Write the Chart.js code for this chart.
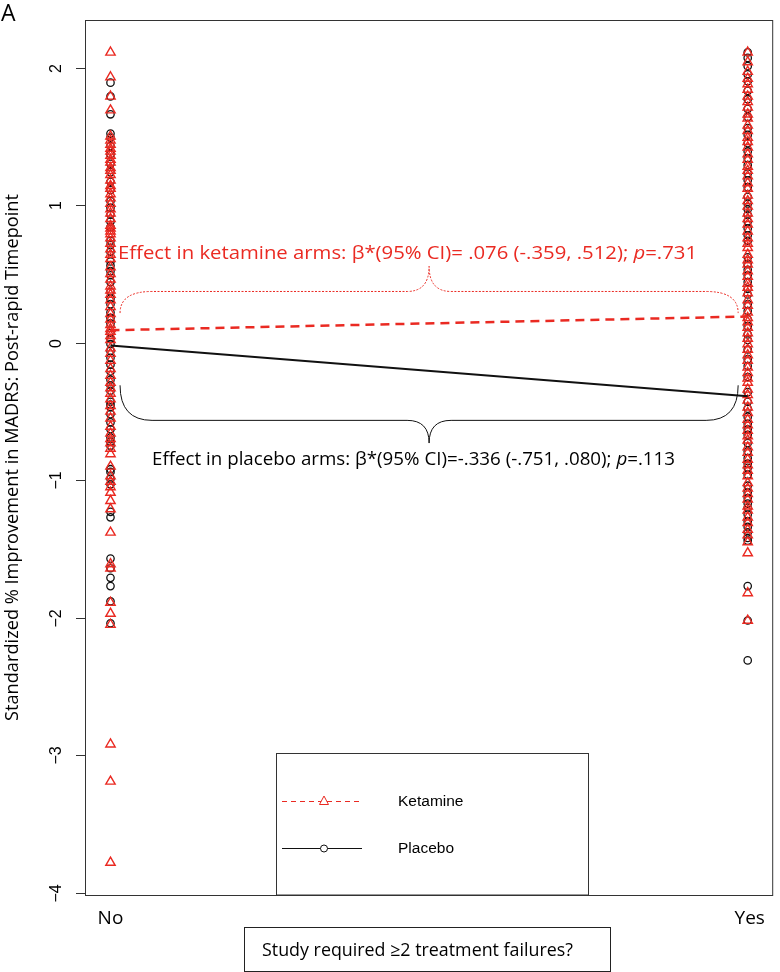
<!DOCTYPE html>
<html>
<head>
<meta charset="utf-8">
<script src="https://cdn.jsdelivr.net/npm/chart.js@4.4.1/dist/chart.umd.min.js"></script>
<style>
  body { margin: 0; background: #fff; }
  #wrap { width: 780px; height: 972px; }
</style>
</head>
<body>
<div id="wrap"><canvas id="chart" width="780" height="972"></canvas></div>
<script>
// categories on the x axis (0 = No, 1 = Yes)
const categories = ['No', 'Yes'];
const yTicks = [-4, -3, -2, -1, 0, 1, 2];

// standardized % improvement
const ketamineNo = [2.11, 1.93, 1.79, 1.69, 1.50, 1.47, 1.44, 1.41, 1.39, 1.36, 1.33, 1.31, 1.27, 1.25, 1.22, 1.18,
  1.14, 1.12, 1.08, 1.05, 1.01, 0.97, 0.94, 0.90, 0.85, 0.83, 0.81, 0.79, 0.76, 0.72, 0.68, 0.64, 0.61, 0.55,
  0.50, 0.46, 0.41, 0.38, 0.35, 0.31, 0.26, 0.21, 0.17, 0.13, 0.10, 0.08, 0.05, 0.02, -0.04, -0.08, -0.13,
  -0.19, -0.24, -0.29, -0.33, -0.37, -0.41, -0.46, -0.50, -0.55, -0.61, -0.66, -0.70, -0.73, -0.77, -0.81,
  -0.90, -0.97, -1.01, -1.05, -1.09, -1.15, -1.21, -1.38, -1.61, -1.64, -1.89, -1.97, -2.05, -2.92, -3.19, -3.78];
const placeboNo = [1.89, 1.79, 1.66, 1.52, 1.49, 1.43, 1.37, 1.30, 1.24, 1.17, 1.11, 1.03, 0.98, 0.93, 0.88, 0.84,
  0.74, 0.71, 0.66, 0.59, 0.56, 0.52, 0.49, 0.44, 0.37, 0.32, 0.28, 0.22, 0.18, 0.14, 0.07, 0.03, -0.01, -0.06,
  -0.11, -0.16, -0.21, -0.27, -0.31, -0.35, -0.43, -0.45, -0.47, -0.52, -0.58, -0.63, -0.69, -0.72, -0.75,
  -0.92, -0.94, -0.99, -1.03, -1.23, -1.27, -1.57, -1.64, -1.71, -1.77, -1.88, -2.04];
const ketamineYes = [2.11, 2.04, 1.97, 1.92, 1.88, 1.84, 1.79, 1.75, 1.71, 1.66, 1.63, 1.58, 1.54, 1.49, 1.46, 1.42,
  1.37, 1.33, 1.28, 1.25, 1.21, 1.16, 1.12, 1.07, 1.03, 0.99, 0.94, 0.90, 0.86, 0.81, 0.76, 0.72, 0.69, 0.64,
  0.60, 0.57, 0.52, 0.48, 0.43, 0.40, 0.36, 0.31, 0.27, 0.22, 0.18, 0.15, 0.11, 0.07, 0.03, -0.01, -0.05, -0.09,
  -0.13, -0.18, -0.22, -0.26, -0.29, -0.34, -0.38, -0.42, -0.47, -0.51, -0.56, -0.60, -0.64, -0.68, -0.71,
  -0.76, -0.80, -0.85, -0.89, -0.93, -0.97, -1.02, -1.06, -1.10, -1.14, -1.19, -1.22, -1.27, -1.31, -1.36,
  -1.40, -1.45, -1.53, -1.82, -2.02];
const placeboYes = [2.11, 2.07, 2.01, 1.95, 1.90, 1.83, 1.77, 1.70, 1.64, 1.56, 1.51, 1.45, 1.39, 1.34, 1.29, 1.23,
  1.18, 1.13, 1.06, 1.01, 0.97, 0.93, 0.88, 0.83, 0.78, 0.74, 0.62, 0.57, 0.53, 0.49, 0.44, 0.39, 0.35, 0.28,
  0.23, 0.17, 0.12, 0.06, 0.02, -0.05, -0.12, -0.17, -0.25, -0.36, -0.43, -0.48, -0.54, -0.59, -0.63, -0.67,
  -0.73, -0.79, -0.84, -0.88, -0.91, -0.96, -1.04, -1.09, -1.13, -1.17, -1.20, -1.25, -1.30, -1.34, -1.38,
  -1.42, -1.44, -1.77, -2.02, -2.31];

// fitted lines (value at No, value at Yes)
const ketamineFit = [0.09, 0.19];
const placeboFit = [-0.02, -0.39];

const RED = 'rgb(234,42,34)';
const BLACK = '#111';

const toPoints = (no, yes) => no.map(v => ({x: 0, y: v})).concat(yes.map(v => ({x: 1, y: v})));
const fitPoints = (fit) => fit.map((v, i) => ({x: i, y: v}));

// text drawn with a horizontal squeeze so it spans the same width as in the picture
function drawRich(ctx, parts, x, y, width, align) {
  let total = 0;
  parts.forEach(p => { ctx.font = p.font; p.w = ctx.measureText(p.text).width; total += p.w; });
  const sx = width ? width / total : 1;
  ctx.save();
  ctx.translate(x, y);
  ctx.scale(sx, 1);
  let cx = align === 'center' ? -total / 2 : 0;
  ctx.textAlign = 'left';
  parts.forEach(p => { ctx.font = p.font; ctx.fillText(p.text, cx, 0); cx += p.w; });
  ctx.restore();
}

// curly brace between two x values, ends at yEnd, flat part at yMid, tip at yTip
function drawBrace(ctx, xs, x0, x1, yEnd, yMid, yTip) {
  const a = xs.getPixelForValue(x0), b = xs.getPixelForValue(x1);
  const c = (a + b) / 2;
  const r = 32, r2 = 22;
  ctx.beginPath();
  ctx.moveTo(a, yEnd);
  ctx.quadraticCurveTo(a, yMid, a + r, yMid);
  ctx.lineTo(c - r2, yMid);
  ctx.quadraticCurveTo(c, yMid, c, yTip);
  ctx.quadraticCurveTo(c, yMid, c + r2, yMid);
  ctx.lineTo(b - r, yMid);
  ctx.quadraticCurveTo(b, yMid, b, yEnd);
  ctx.stroke();
}

const decorations = {
  id: 'decorations',
  afterDraw(chart) {
    const ctx = chart.ctx;
    const area = chart.chartArea;
    const xs = chart.scales.x, ys = chart.scales.y;
    ctx.save();

    // frame
    ctx.strokeStyle = '#333';
    ctx.lineWidth = 1;
    ctx.strokeRect(area.left + 0.5, area.top + 0.5, area.right - area.left - 1, area.bottom - area.top);

    // y ticks and rotated labels
    ctx.fillStyle = '#000';
    yTicks.forEach(v => {
      const y = Math.round(ys.getPixelForValue(v)) + 0.5;
      ctx.beginPath();
      ctx.moveTo(area.left - 9, y);
      ctx.lineTo(area.left, y);
      ctx.stroke();
      ctx.save();
      ctx.translate(57, y);
      ctx.rotate(-Math.PI / 2);
      ctx.font = '16px "Liberation Sans", Arial';
      ctx.textAlign = 'center';
      ctx.textBaseline = 'middle';
      ctx.fillText(v < 0 ? '\u2212' + Math.abs(v) : String(v), 0, 0);
      ctx.restore();
    });

    // y axis title
    ctx.save();
    ctx.translate(13, (area.top + area.bottom) / 2);
    ctx.rotate(-Math.PI / 2);
    ctx.textBaseline = 'middle';
    drawRich(ctx, [{text: 'Standardized % Improvement in MADRS: Post-rapid Timepoint', font: '18px "Open Sans"'}],
      0, 0, 527, 'center');
    ctx.restore();

    // panel letter
    ctx.textBaseline = 'alphabetic';
    ctx.font = '23px "Open Sans"';
    ctx.textAlign = 'left';
    ctx.fillText('A', 1, 21);

    // category labels
    ctx.font = '19px "Open Sans"';
    ctx.textAlign = 'center';
    categories.forEach((c, i) => ctx.fillText(c, xs.getPixelForValue(i) + (i ? 2 : 0), 924));

    // x label box
    ctx.strokeStyle = '#222';
    ctx.strokeRect(244.5, 927.5, 366, 44);
    drawRich(ctx, [{text: 'Study required \u22652 treatment failures?', font: '18px "Open Sans"'}], 262, 956, 311);

    // braces and effect texts
    ctx.strokeStyle = RED;
    ctx.lineWidth = 1;
    ctx.setLineDash([2, 1.5]);
    drawBrace(ctx, xs, 0.015, 0.985, ys.getPixelForValue(0.215), ys.getPixelForValue(0.372), ys.getPixelForValue(0.555));
    ctx.setLineDash([]);
    ctx.strokeStyle = BLACK;
    drawBrace(ctx, xs, 0.015, 0.985, ys.getPixelForValue(-0.31), ys.getPixelForValue(-0.565), ys.getPixelForValue(-0.73));

    ctx.fillStyle = RED;
    drawRich(ctx, [
      {text: 'Effect in ketamine arms: \u03b2*(95% CI)= .076 (-.359, .512); ', font: '18.5px "Open Sans"'},
      {text: 'p', font: 'italic 18.5px "Open Sans"'},
      {text: '=.731', font: '18.5px "Open Sans"'}
    ], 118, 259, 579);
    ctx.fillStyle = '#000';
    drawRich(ctx, [
      {text: 'Effect in placebo arms: \u03b2*(95% CI)=-.336 (-.751, .080); ', font: '18.5px "Open Sans"'},
      {text: 'p', font: 'italic 18.5px "Open Sans"'},
      {text: '=.113', font: '18.5px "Open Sans"'}
    ], 152, 465, 523);

    // legend box
    ctx.strokeStyle = '#333';
    ctx.fillStyle = '#fff';
    ctx.fillRect(276.5, 753.5, 312, area.bottom - 753.5);
    ctx.strokeRect(276.5, 753.5, 312, area.bottom - 753.5);
    const entries = [
      {label: 'Ketamine', y: 801, color: RED, dash: [5, 4], style: 'triangle'},
      {label: 'Placebo', y: 848, color: BLACK, dash: [], style: 'circle'}
    ];
    entries.forEach(e => {
      ctx.strokeStyle = e.color;
      ctx.lineWidth = 1;
      ctx.setLineDash(e.dash);
      ctx.beginPath();
      ctx.moveTo(282, e.y + 0.5);
      ctx.lineTo(362, e.y + 0.5);
      ctx.stroke();
      ctx.setLineDash([]);
      ctx.fillStyle = '#fff';
      if (e.style === 'triangle') {
        ctx.beginPath();
        ctx.moveTo(324, e.y - 5);
        ctx.lineTo(328.5, e.y + 3.5);
        ctx.lineTo(319.5, e.y + 3.5);
        ctx.closePath();
        ctx.fill();
        ctx.stroke();
      } else {
        ctx.beginPath();
        ctx.arc(324, e.y + 0.5, 3.5, 0, Math.PI * 2);
        ctx.fill();
        ctx.stroke();
      }
      ctx.fillStyle = '#000';
      ctx.font = '15.5px "Liberation Sans", Arial';
      ctx.textAlign = 'left';
      ctx.textBaseline = 'middle';
      ctx.fillText(e.label, 398, e.y + 1);
    });
    ctx.restore();
  }
};

new Chart(document.getElementById('chart'), {
  type: 'scatter',
  data: {
    datasets: [
      {
        label: 'Ketamine fit',
        type: 'line',
        data: fitPoints(ketamineFit),
        borderColor: RED,
        borderWidth: 2.5,
        borderDash: [9, 6],
        pointRadius: 0,
        fill: false,
        order: 0
      },
      {
        label: 'Placebo fit',
        type: 'line',
        data: fitPoints(placeboFit),
        borderColor: BLACK,
        borderWidth: 2,
        pointRadius: 0,
        fill: false,
        order: 0
      },
      {
        label: 'Ketamine',
        data: toPoints(ketamineNo, ketamineYes),
        pointStyle: 'triangle',
        pointRadius: 5.4,
        borderColor: RED,
        borderWidth: 1.4,
        backgroundColor: 'rgba(0,0,0,0)',
        order: 1
      },
      {
        label: 'Placebo',
        data: toPoints(placeboNo, placeboYes),
        pointStyle: 'circle',
        pointRadius: 3.7,
        borderColor: BLACK,
        borderWidth: 1.3,
        backgroundColor: 'rgba(0,0,0,0)',
        order: 2
      }
    ]
  },
  options: {
    responsive: false,
    animation: false,
    layout: { padding: { left: 85, right: 1, top: 20, bottom: 77 } },
    scales: {
      x: { type: 'linear', min: -0.04, max: 1.04, display: false },
      y: { type: 'linear', min: -4.0156, max: 2.3456, display: false }
    },
    plugins: {
      legend: { display: false },
      tooltip: { enabled: false }
    }
  },
  plugins: [decorations]
});
</script>
</body>
</html>
